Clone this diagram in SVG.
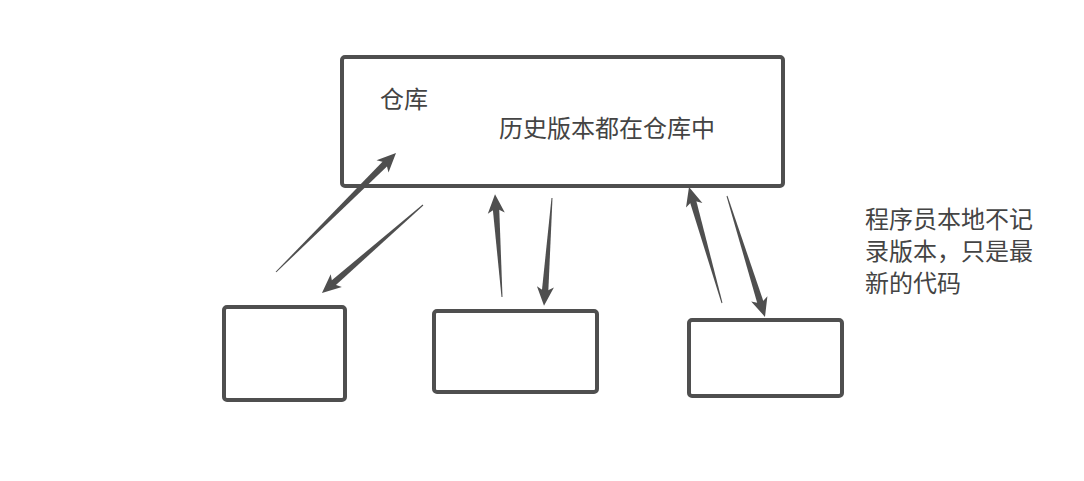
<svg xmlns="http://www.w3.org/2000/svg" width="1084" height="481" viewBox="0 0 1084 481">
<style>
.box{fill:#fff;stroke:#4f4f4f;stroke-width:4}
.ar{fill:#4f4f4f;stroke:none}
.t{font-family:"Noto Sans CJK SC","Noto Sans",sans-serif;font-size:24px;fill:#444}
</style>
<rect width="1084" height="481" fill="#fff"/>
<g id="repo">
<rect class="box" x="342" y="57" width="441" height="129" rx="3"/>
<text class="t" x="380" y="108">仓库</text>
<text class="t" x="499" y="137">历史版本都在仓库中</text>
</g>
<g id="dev1"><rect class="box" x="224" y="307" width="121" height="93" rx="3"/></g>
<g id="dev2"><rect class="box" x="434" y="311" width="163" height="81" rx="3"/></g>
<g id="dev3"><rect class="box" x="689" y="320" width="153" height="76" rx="3"/></g>
<g id="note">
<text class="t" x="865" y="228">程序员本地不记</text>
<text class="t" x="865" y="260">录版本，只是最</text>
<text class="t" x="865" y="292">新的代码</text>
</g>
<g id="connectors" class="ar">
<g transform="translate(276,272) rotate(-44.76)"><polygon points="0,-0.5 157,-3.3 157,3.3 0,0.5"/><polygon points="169,0 150,8.5 155,0 150,-8.5"/></g>
<g transform="translate(423,205) rotate(138.94)"><polygon points="0,-0.5 122,-3.3 122,3.3 0,0.5"/><polygon points="134,0 115,8.5 120,0 115,-8.5"/></g>
<g transform="translate(502,297) rotate(-93.89)"><polygon points="0,-0.5 91,-3.3 91,3.3 0,0.5"/><polygon points="103,0 84,8.5 89,0 84,-8.5"/></g>
<g transform="translate(552,198) rotate(94.24)"><polygon points="0,-0.5 96,-3.3 96,3.3 0,0.5"/><polygon points="108,0 89,8.5 94,0 89,-8.5"/></g>
<g transform="translate(722,303) rotate(-105.88)"><polygon points="0,-0.5 108,-3.3 108,3.3 0,0.5"/><polygon points="120.6,0 101.6,8.5 106.6,0 101.6,-8.5"/></g>
<g transform="translate(727,196) rotate(72.57)"><polygon points="0,-0.5 115,-3.3 115,3.3 0,0.5"/><polygon points="126.8,0 107.8,8.5 112.8,0 107.8,-8.5"/></g>
</g>
</svg>
